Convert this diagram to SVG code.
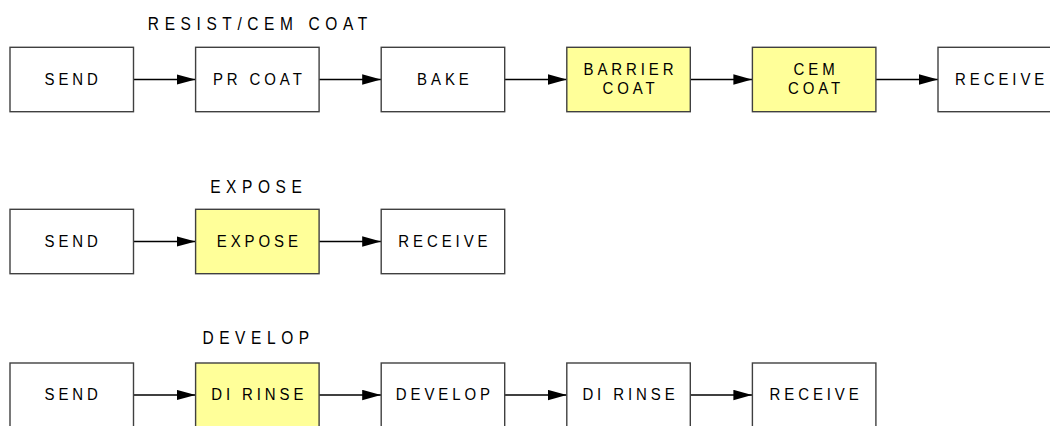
<svg xmlns="http://www.w3.org/2000/svg" width="1050" height="426" viewBox="0 0 1050 426">
<style>
.box{fill:#ffffff;stroke:#404040;stroke-width:1.4}
.hl{fill:#ffff99}
.t{font-family:"Liberation Sans",Arial,sans-serif;font-size:15px;letter-spacing:3.9px;fill:#000000;text-anchor:middle;transform-box:fill-box;transform-origin:center;transform:scaleY(1.15)}
.ttl{font-family:"Liberation Sans",Arial,sans-serif;font-size:15.5px;letter-spacing:5.6px;fill:#000000;text-anchor:middle;transform-box:fill-box;transform-origin:center;transform:scaleY(1.17)}
.c{stroke:#000000;stroke-width:1.4;fill:none;marker-end:url(#ah)}
</style>
<defs>
<marker id="ah" markerUnits="userSpaceOnUse" markerWidth="19" markerHeight="11" refX="19" refY="5.5" orient="auto">
<path d="M0,0.3 L19,5.5 L0,10.7 Z" fill="#000000"/>
</marker>
</defs>
<rect width="1050" height="426" fill="#ffffff"/>
<g id="titles">
<text class="ttl" x="260.3" y="29.2">RESIST/CEM COAT</text>
<text class="ttl" x="258.8" y="192.5">EXPOSE</text>
<text class="ttl" x="258.6" y="343.2">DEVELOP</text>
</g>
<g id="connectors">
<line class="c" x1="133.5" y1="79.5" x2="195.6" y2="79.5"/>
<line class="c" x1="319.1" y1="79.5" x2="381.2" y2="79.5"/>
<line class="c" x1="504.7" y1="79.5" x2="566.8" y2="79.5"/>
<line class="c" x1="690.3" y1="79.5" x2="752.4" y2="79.5"/>
<line class="c" x1="875.9" y1="79.5" x2="938" y2="79.5"/>
<line class="c" x1="133.5" y1="241.5" x2="195.6" y2="241.5"/>
<line class="c" x1="319.1" y1="241.5" x2="381.2" y2="241.5"/>
<line class="c" x1="133.5" y1="395" x2="195.6" y2="395"/>
<line class="c" x1="319.1" y1="395" x2="381.2" y2="395"/>
<line class="c" x1="504.7" y1="395" x2="566.8" y2="395"/>
<line class="c" x1="690.3" y1="395" x2="752.4" y2="395"/>
</g>
<g id="r1-send"><rect class="box" x="10" y="47.3" width="123.5" height="64.4"/><text class="t" x="73.2" y="84.2">SEND</text></g>
<g id="r1-prcoat"><rect class="box" x="195.6" y="47.3" width="123.5" height="64.4"/><text class="t" x="259.3" y="84.2">PR COAT</text></g>
<g id="r1-bake"><rect class="box" x="381.2" y="47.3" width="123.5" height="64.4"/><text class="t" x="444.9" y="84.2">BAKE</text></g>
<g id="r1-barrier"><rect class="box hl" x="566.8" y="47.3" width="123.5" height="64.4"/><text class="t" x="630.5" y="74.2">BARRIER</text><text class="t" x="630.5" y="93.2">COAT</text></g>
<g id="r1-cem"><rect class="box hl" x="752.4" y="47.3" width="123.5" height="64.4"/><text class="t" x="816.1" y="74.2">CEM</text><text class="t" x="816.1" y="93.2">COAT</text></g>
<g id="r1-receive"><rect class="box" x="938" y="47.3" width="123.5" height="64.4"/><text class="t" x="1001.7" y="84.2">RECEIVE</text></g>
<g id="r2-send"><rect class="box" x="10" y="209.3" width="123.5" height="64.4"/><text class="t" x="73.2" y="245.9">SEND</text></g>
<g id="r2-expose"><rect class="box hl" x="195.6" y="209.3" width="123.5" height="64.4"/><text class="t" x="259.3" y="245.9">EXPOSE</text></g>
<g id="r2-receive"><rect class="box" x="381.2" y="209.3" width="123.5" height="64.4"/><text class="t" x="444.9" y="245.9">RECEIVE</text></g>
<g id="r3-send"><rect class="box" x="10" y="363" width="123.5" height="64.4"/><text class="t" x="73.2" y="399.2">SEND</text></g>
<g id="r3-dirinse1"><rect class="box hl" x="195.6" y="363" width="123.5" height="64.4"/><text class="t" x="259.3" y="399.2">DI RINSE</text></g>
<g id="r3-develop"><rect class="box" x="381.2" y="363" width="123.5" height="64.4"/><text class="t" x="444.9" y="399.2">DEVELOP</text></g>
<g id="r3-dirinse2"><rect class="box" x="566.8" y="363" width="123.5" height="64.4"/><text class="t" x="630.5" y="399.2">DI RINSE</text></g>
<g id="r3-receive"><rect class="box" x="752.4" y="363" width="123.5" height="64.4"/><text class="t" x="816.1" y="399.2">RECEIVE</text></g>
</svg>
